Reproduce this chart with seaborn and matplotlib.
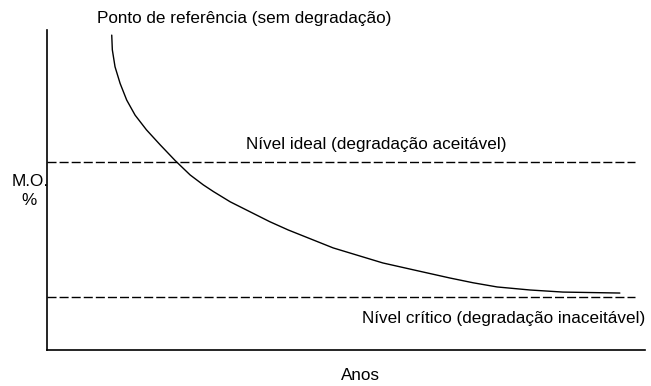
import matplotlib
matplotlib.use("Agg")
import matplotlib.pyplot as plt
import seaborn as sns
import pandas as pd

# curva de M.O. ao longo dos anos (unidades arbitrárias)
anos = [10.9, 11.0, 11.45, 12.3, 13.4, 14.8, 16.7, 19.0, 21.5, 24.0, 26.2, 27.9,
        30.7, 34.0, 37.3, 40.4, 47.9, 56.2, 61.9, 67.4, 71.3, 75.3, 80.8, 86.3, 95.8]
mo = [98.4, 93.8, 88.5, 83.3, 78.1, 73.4, 68.8, 64.1, 59.2, 54.7, 51.6, 49.5,
      46.3, 43.2, 40.1, 37.5, 31.9, 27.2, 24.8, 22.5, 21.0, 19.7, 18.75, 18.1, 17.8]

niveis = [58.8, 16.7]  # ideal, crítico
niveis_fim = 98.3

sns.set_theme(style="white")
plt.rcParams["font.family"] = ["Liberation Sans", "DejaVu Sans"]
plt.rcParams["text.color"] = "black"

fig = plt.figure(figsize=(6.51, 3.86), dpi=100)
ax = fig.add_axes([46.5 / 651, 36 / 386, (645 - 46.5) / 651, 320 / 386])

df = pd.DataFrame({"anos": anos, "mo": mo})
sns.lineplot(data=df, x="anos", y="mo", sort=False, color="black", linewidth=1.0, ax=ax)
ax.hlines(niveis, 0, niveis_fim, colors="black", linewidth=1.0, linestyles=(0, (6.5, 2.2)))

ax.set_xlim(0, 100)
ax.set_ylim(0, 100)
ax.set_xticks([])
ax.set_yticks([])
ax.set_xlabel("")
ax.set_ylabel("")
sns.despine(ax=ax)
for s in ["left", "bottom"]:
    ax.spines[s].set_color("black")
    ax.spines[s].set_linewidth(1.2)

fs = 12.3
fig.text(97 / 651, 1 - 18 / 386, "Ponto de referência (sem degradação)", fontsize=fs, va="center", ha="left")
fig.text(246 / 651, 1 - 144 / 386, "Nível ideal (degradação aceitável)", fontsize=fs, va="center", ha="left")
fig.text(645 / 651, 1 - 318 / 386, "Nível crítico (degradação inaceitável)", fontsize=fs, va="center", ha="right")
ax.text(-34.5 / 598.5, (350 - 181) / 320, "M.O.", transform=ax.transAxes, fontsize=fs,
        va="center", ha="left", zorder=10, clip_on=False)
fig.text(29 / 651, 1 - 201 / 386, "%", fontsize=fs, va="center", ha="center")
fig.text(360 / 651, 1 - 376 / 386, "Anos", fontsize=fs, va="center", ha="center")

fig.savefig("out.png", dpi=100)
